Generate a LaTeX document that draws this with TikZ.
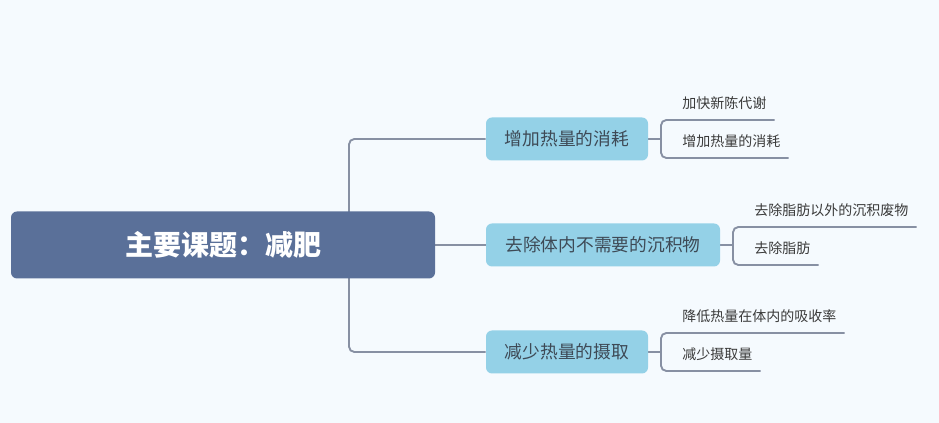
\documentclass[tikz,border=0pt]{standalone}
\usepackage{fontspec}
\setmainfont{Noto Sans CJK SC}
\usetikzlibrary{backgrounds,calc}
\definecolor{bg}{HTML}{F5FAFE}
\definecolor{rootc}{HTML}{5A7099}
\definecolor{subc}{HTML}{94D1E7}
\definecolor{linec}{HTML}{8790A3}
\definecolor{subtext}{HTML}{3E4A56}
\definecolor{leaftext}{HTML}{3A3A3A}
\begin{document}
\begin{tikzpicture}[x=0.75pt,y=-0.75pt,
  rootbox/.style={fill=rootc,rounded corners=4.5pt,minimum width=318pt,minimum height=50.25pt,text=white,font=\fontsize{21}{24}\selectfont\bfseries,inner sep=0pt},
  subbox/.style={fill=subc,rounded corners=4.5pt,minimum height=32.25pt,text=subtext,font=\fontsize{13.3}{16}\selectfont,inner sep=0pt},
  leaf/.style={text=leaftext,font=\fontsize{10.5}{12}\selectfont,inner sep=0pt,anchor=west},
  conn/.style={draw=linec,line width=1.4pt,rounded corners=4pt}]
\useasboundingbox (0,0) rectangle (939,423);
\node[rootbox] (root) at (223,245) {主要课题：减肥};
\node[subbox,minimum width=121.5pt] (b1) at (567,139) {增加热量的消耗};
\node[subbox,minimum width=175.5pt] (b2) at (603,245) {去除体内不需要的沉积物};
\node[subbox,minimum width=121.5pt] (b3) at (567,352) {减少热量的摄取};
\coordinate (s0) at (349,245);
\coordinate (k1) at (661,139);
\coordinate (k2) at (733,246);
\coordinate (k3) at (661,352);
\node[leaf] (l11) at (682,103) {加快新陈代谢};
\node[leaf] (l12) at (682,141) {增加热量的消耗};
\node[leaf] (l21) at (754,210) {去除脂肪以外的沉积废物};
\node[leaf] (l22) at (754,248) {去除脂肪};
\node[leaf] (l31) at (682,316) {降低热量在体内的吸收率};
\node[leaf] (l32) at (682,354) {减少摄取量};
\begin{scope}[on background layer]
\fill[bg] (0,0) rectangle (939,423);
\draw[conn] (s0) |- (b1.west);
\draw[conn] (s0) |- (b3.west);
\draw[conn] (root.east) -- (b2.west);
\draw[conn] (b1.east) -- (k1);
\draw[conn] (b2.east) -- (b2.east -| k2);
\draw[conn] (b3.east) -- (k3);
\draw[conn] ($(l11.east)+(8,17)$) -- ($(k1)+(0,-19)$) -- ($(k1)+(0,19)$) -- ($(l12.east)+(8,17)$);
\draw[conn] ($(l21.east)+(8,17)$) -- ($(k2)+(0,-19)$) -- ($(k2)+(0,19)$) -- ($(l22.east)+(8,17)$);
\draw[conn] ($(l31.east)+(8,17)$) -- ($(k3)+(0,-19)$) -- ($(k3)+(0,19)$) -- ($(l32.east)+(8,17)$);
\end{scope}
\end{tikzpicture}
\end{document}
